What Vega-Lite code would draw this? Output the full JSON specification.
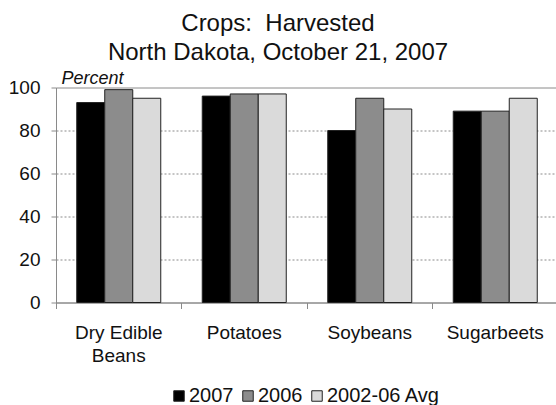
{
  "$schema": "https://vega.github.io/schema/vega-lite/v6.json",
  "width": 500,
  "height": 215,
  "autosize": {"type": "none"},
  "padding": {"left": 56, "top": 87.5, "right": 0, "bottom": 102.5},
  "background": "white",
  "config": {"view": {"stroke": null}, "font": "Liberation Sans"},
  "title": {
    "text": ["Crops:\u00a0 Harvested", "North Dakota, October 21, 2007"],
    "font": "Liberation Sans",
    "fontSize": 24,
    "fontWeight": "normal",
    "lineHeight": 29,
    "color": "#111111",
    "anchor": "middle",
    "frame": "group",
    "dx": -28,
    "offset": 4
  },
  "data": {
    "values": [
      {"crop": "Dry Edible Beans", "series": "2007", "value": 93},
      {"crop": "Dry Edible Beans", "series": "2006", "value": 99},
      {"crop": "Dry Edible Beans", "series": "2002-06 Avg", "value": 95},
      {"crop": "Potatoes", "series": "2007", "value": 96},
      {"crop": "Potatoes", "series": "2006", "value": 97},
      {"crop": "Potatoes", "series": "2002-06 Avg", "value": 97},
      {"crop": "Soybeans", "series": "2007", "value": 80},
      {"crop": "Soybeans", "series": "2006", "value": 95},
      {"crop": "Soybeans", "series": "2002-06 Avg", "value": 90},
      {"crop": "Sugarbeets", "series": "2007", "value": 89},
      {"crop": "Sugarbeets", "series": "2006", "value": 89},
      {"crop": "Sugarbeets", "series": "2002-06 Avg", "value": 95}
    ]
  },
  "mark": {"type": "bar", "stroke": "#222222", "strokeWidth": 1},
  "encoding": {
    "x": {
      "field": "crop",
      "type": "nominal",
      "sort": ["Dry Edible Beans", "Potatoes", "Soybeans", "Sugarbeets"],
      "scale": {"range": [0, 502], "paddingInner": 0, "paddingOuter": 0},
      "axis": {
        "title": null,
        "bandPosition": 0,
        "grid": false,
        "tickSize": 6,
        "tickColor": "#8a8a8a",
        "domainColor": "#8a8a8a",
        "labelAngle": 0,
        "labelFontSize": 19,
        "labelColor": "#111111",
        "labelBaseline": "top",
        "labelPadding": 15,
        "labelLineHeight": 23,
        "labelLimit": 0,
        "labelExpr": "datum.label == 'Dry Edible Beans' ? ['Dry Edible', 'Beans'] : datum.label"
      }
    },
    "xOffset": {
      "field": "series",
      "type": "nominal",
      "sort": ["2007", "2006", "2002-06 Avg"],
      "scale": {"paddingInner": 0, "paddingOuter": 0.741}
    },
    "y": {
      "field": "value",
      "type": "quantitative",
      "scale": {"domain": [0, 100], "nice": false},
      "axis": {
        "title": "Percent",
        "titleAngle": 0,
        "titleAlign": "left",
        "titleBaseline": "alphabetic",
        "titleX": 5,
        "titleY": -4.5,
        "titleFontSize": 18,
        "titleFontStyle": "italic",
        "titleFontWeight": "normal",
        "titleColor": "#111111",
        "values": [0, 20, 40, 60, 80, 100],
        "labelFontSize": 19,
        "labelColor": "#111111",
        "labelPadding": 11,
        "tickSize": 5,
        "tickColor": "#8a8a8a",
        "domainColor": "#8a8a8a",
        "grid": true,
        "gridColor": "#8a8a8a",
        "gridWidth": 1,
        "gridDash": {"condition": {"test": "datum.value === 100 || datum.value === 0", "value": []}, "value": [2, 2]}
      }
    },
    "color": {
      "field": "series",
      "type": "nominal",
      "sort": ["2007", "2006", "2002-06 Avg"],
      "scale": {"domain": ["2007", "2006", "2002-06 Avg"], "range": ["#000000", "#8c8c8c", "#dadada"]},
      "legend": {
        "title": null,
        "orient": "none",
        "direction": "horizontal",
        "legendX": 113,
        "legendY": 298.5,
        "symbolType": "square",
        "symbolSize": 110,
        "symbolStrokeColor": "#222222",
        "symbolStrokeWidth": 1,
        "symbolOpacity": 1,
        "labelFontSize": 20,
        "labelColor": "#111111",
        "labelOffset": 0,
        "columnPadding": 4,
        "padding": 0
      }
    }
  }
}
